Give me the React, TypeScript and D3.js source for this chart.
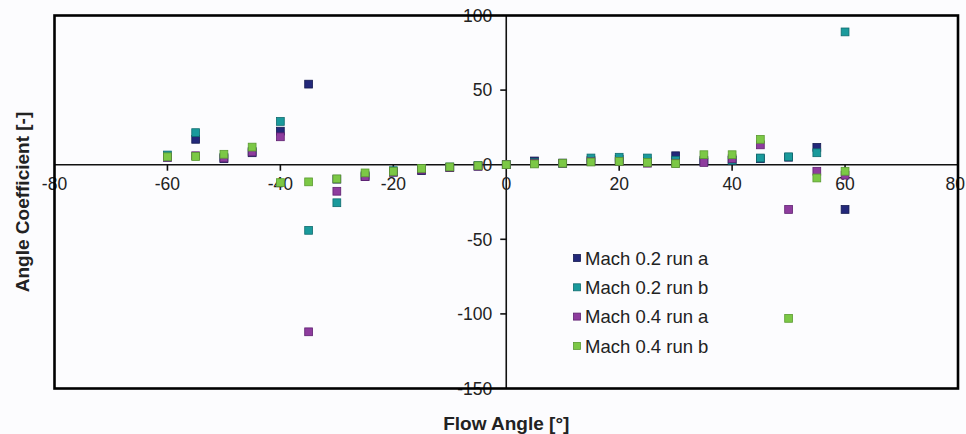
import React from "react";
import * as d3 from "d3";

const flowAngles = [-60, -55, -50, -45, -40, -35, -30, -25, -20, -15, -10, -5, 0, 5, 10, 15, 20, 25, 30, 35, 40, 45, 50, 55, 60];
const mach02a = [5, 17, 4, 8, 22.5, 54, -9.7, -8, -5, -4, -2, -1, 0, 2.5, 1, 3, 3.5, 2, 6, 3, 3, 4, 5, 11.6, -30];
const mach02b = [6.5, 21.5, 5, 9, 29, -44, -25.5, -7, -4, -3, -1.5, -0.5, 0, 1.5, 1, 4.5, 5, 4.5, 3, 2, 3, 4.5, 5.3, 8, 89];
const mach04a = [5, 6, 4.5, 8.5, 18.7, -112, -17.8, -8, -5, -3.5, -2, -1, 0, 1, 1, 2, 2, 1, 1, 1.5, 4, 13.3, -30, -4.4, -7];
const mach04b = [5.3, 5.5, 7, 11.8, -12, -11.5, -9.5, -5.5, -4.5, -2.5, -1.5, -0.7, 0, 0.5, 1, 1.8, 2.2, 1.5, 0.7, 6.7, 6.7, 17, -103, -8.9, -4.4];

const seriesNames = ["Mach 0.2 run a", "Mach 0.2 run b", "Mach 0.4 run a", "Mach 0.4 run b"];
const seriesValues = [mach02a, mach02b, mach04a, mach04b];
const seriesFill = ["#23287a", "#1a9a9c", "#8e3c9e", "#7cc846"];
const seriesStroke = ["#141a50", "#0f6b6e", "#5e2070", "#5a9a30"];

const xTicks = [-80, -60, -40, -20, 0, 20, 40, 60, 80];
const yTicks = [100, 50, 0, -50, -100, -150];

export default function App() {
  const W = 966, H = 434;
  const left = 54.5, right = 958, top = 15.5, bottom = 388.5;
  const x = d3.scaleLinear().domain([-80, 80]).range([left, right]);
  const y = d3.scaleLinear().domain([-150, 100]).range([bottom, top]);
  const x0 = x(0), y0 = y(0);
  const ms = 7.8;
  const font = "'Liberation Sans', Arial, sans-serif";
  const legendX = 577, legendY = 258, legendStep = 29.3;

  return (
    <svg width={W} height={H} style={{ position: "absolute", left: 0, top: 0, background: "#fcfcfe" }} fontFamily={font}>
      <rect x={0} y={0} width={W} height={H} fill="#fcfcfe" />
      {/* zero lines */}
      <line x1={left} x2={right} y1={y0} y2={y0} stroke="#111" strokeWidth={1.6} />
      <line x1={x0} x2={x0} y1={top} y2={bottom} stroke="#111" strokeWidth={1.6} />
      {/* x ticks */}
      {xTicks.map((t) => (
        <g key={"xt" + t}>
          {t !== -80 && t !== 80 && t !== 0 && (
            <line x1={x(t)} x2={x(t)} y1={y0} y2={y0 + 6} stroke="#111" strokeWidth={1.6} />
          )}
          <text x={t === 80 ? W - 1 : x(t)} y={y0 + 25} textAnchor={t === 80 ? "end" : "middle"} fontSize={17.5} fill="#222">
            {t}
          </text>
        </g>
      ))}
      {/* y ticks */}
      {yTicks.map((t) => (
        <g key={"yt" + t}>
          {t !== 100 && t !== -150 && t !== 0 && (
            <line x1={x0 - 6} x2={x0} y1={y(t)} y2={y(t)} stroke="#111" strokeWidth={1.6} />
          )}
          <text x={x0 - 14} y={y(t)} dy="0.36em" textAnchor="end" fontSize={17.5} fill="#222">
            {t}
          </text>
        </g>
      ))}
      {/* plot border */}
      <rect x={left} y={top} width={right - left} height={bottom - top} fill="none" stroke="#000" strokeWidth={2.6} />
      {/* markers */}
      {seriesValues.map((vals, si) => (
        <g key={"s" + si}>
          {vals.map((v, i) => (
            <rect
              key={i}
              x={x(flowAngles[i]) - ms / 2}
              y={y(v) - ms / 2}
              width={ms}
              height={ms}
              fill={seriesFill[si]}
              stroke={seriesStroke[si]}
              strokeWidth={0.8}
            />
          ))}
        </g>
      ))}
      {/* legend */}
      {seriesNames.map((n, i) => (
        <g key={"l" + i}>
          <rect x={legendX - 3.5} y={legendY + i * legendStep - 3.5} width={7} height={7} fill={seriesFill[i]} stroke={seriesStroke[i]} strokeWidth={0.8} />
          <text x={legendX + 8} y={legendY + i * legendStep} dy="0.36em" fontSize={18.5} fill="#222">
            {n}
          </text>
        </g>
      ))}
      {/* axis titles */}
      <text x={x0} y={423} dy="0.36em" textAnchor="middle" fontSize={19} fontWeight="bold" fill="#222">
        Flow Angle [°]
      </text>
      <text transform={`translate(22,${202}) rotate(-90)`} dy="0.36em" textAnchor="middle" fontSize={19} fontWeight="bold" fill="#222">
        Angle Coefficient [-]
      </text>
    </svg>
  );
}
